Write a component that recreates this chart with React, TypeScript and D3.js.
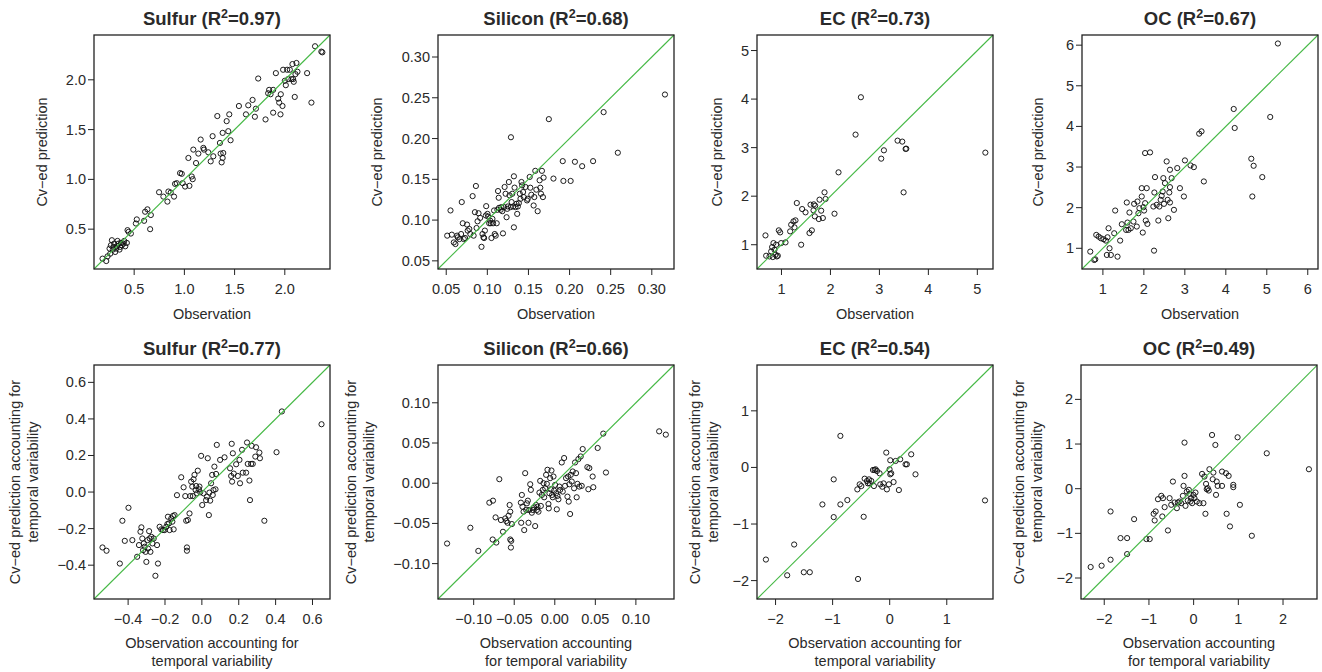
import React from "react";
import * as d3 from "d3";

// ---------- DATA: [observation, cv-ed prediction] ----------
const sulfurTop: [number, number][] = [
  [0.185, 0.204], [0.222, 0.18], [0.235, 0.227], [0.262, 0.254], [0.255, 0.305], [0.268, 0.338],
  [0.278, 0.389], [0.288, 0.295], [0.295, 0.322], [0.301, 0.355], [0.311, 0.271], [0.321, 0.305],
  [0.328, 0.328], [0.334, 0.382], [0.344, 0.355], [0.354, 0.295], [0.361, 0.322], [0.368, 0.362],
  [0.377, 0.338], [0.394, 0.355], [0.401, 0.382], [0.411, 0.328], [0.427, 0.362], [0.434, 0.49],
  [0.444, 0.473], [0.467, 0.456], [0.526, 0.598], [0.517, 0.557], [0.599, 0.584], [0.609, 0.675],
  [0.632, 0.699], [0.666, 0.642], [0.659, 0.5], [0.748, 0.871], [0.791, 0.827], [0.831, 0.777],
  [0.841, 0.878], [0.864, 0.868], [0.897, 0.827], [0.907, 0.955], [0.924, 0.962], [0.957, 1.063],
  [0.974, 1.056], [0.983, 0.962], [1.007, 0.928], [1.05, 0.935], [1.073, 1.029], [1.083, 1.002],
  [1.04, 1.215], [1.089, 1.299], [1.116, 1.164], [1.139, 1.259], [1.162, 1.4], [1.189, 1.316],
  [1.195, 1.299], [1.238, 1.272], [1.262, 1.181], [1.281, 1.434], [1.288, 1.232], [1.328, 1.636],
  [1.354, 1.366], [1.361, 1.259], [1.371, 1.171], [1.381, 1.467], [1.381, 1.215], [1.387, 1.265],
  [1.421, 1.585], [1.437, 1.484], [1.447, 1.653], [1.46, 1.393], [1.543, 1.737], [1.613, 1.653],
  [1.636, 1.744], [1.679, 1.798], [1.702, 1.629], [1.735, 2.013], [1.712, 1.71], [1.808, 1.602],
  [1.834, 1.865], [1.844, 1.899], [1.858, 1.855], [1.884, 1.899], [1.911, 2.067], [1.934, 1.811],
  [1.944, 1.771], [1.96, 1.855], [1.957, 1.653], [1.977, 1.737], [1.884, 1.67], [1.983, 2.101],
  [2.0, 1.99], [2.01, 1.946], [2.023, 2.101], [2.033, 2.007], [2.05, 2.101], [2.066, 2.007],
  [2.076, 2.158], [2.089, 1.98], [2.099, 1.828], [2.106, 2.057], [2.116, 2.169], [2.126, 2.081],
  [2.083, 2.007], [2.222, 2.067], [2.265, 1.771], [2.301, 2.337], [2.364, 2.283], [2.374, 2.276],
];

const siliconTop: [number, number][] = [
  [0.0512, 0.0809], [0.0552, 0.1118], [0.0568, 0.0821], [0.0592, 0.0726], [0.0612, 0.0706], [0.0632, 0.0809],
  [0.064, 0.0788], [0.0661, 0.0767], [0.0681, 0.0829], [0.0689, 0.1221], [0.0701, 0.0961], [0.0713, 0.0767],
  [0.0729, 0.078], [0.0753, 0.0945], [0.0761, 0.0871], [0.0781, 0.0891], [0.0793, 0.0829], [0.0821, 0.1294],
  [0.0833, 0.0809], [0.0849, 0.1097], [0.0861, 0.1418], [0.0869, 0.0903], [0.0881, 0.0985], [0.0893, 0.1084],
  [0.0913, 0.1027], [0.0929, 0.0672], [0.0941, 0.0829], [0.0953, 0.0788], [0.0961, 0.078], [0.097, 0.0871],
  [0.0982, 0.1056], [0.0986, 0.1171], [0.1002, 0.1076], [0.101, 0.1043], [0.1022, 0.0961], [0.1034, 0.0994],
  [0.1042, 0.0961], [0.105, 0.078], [0.1062, 0.1015], [0.107, 0.0961], [0.1082, 0.1118], [0.109, 0.0829],
  [0.1102, 0.0809], [0.1114, 0.0961], [0.1122, 0.1126], [0.113, 0.1356], [0.1138, 0.1274], [0.1142, 0.115],
  [0.1162, 0.1126], [0.117, 0.1159], [0.1182, 0.1109], [0.119, 0.0837], [0.1202, 0.1159], [0.121, 0.1406],
  [0.1222, 0.1323], [0.1234, 0.1035], [0.1242, 0.1138], [0.125, 0.1167], [0.1262, 0.1467], [0.127, 0.1303],
  [0.1283, 0.1159], [0.1287, 0.2016], [0.1295, 0.1221], [0.1303, 0.1323], [0.1315, 0.1167], [0.1323, 0.1537],
  [0.1323, 0.0911], [0.1331, 0.1398], [0.1343, 0.1159], [0.1355, 0.12], [0.1363, 0.1076], [0.1371, 0.1167],
  [0.1383, 0.1208], [0.1395, 0.1323], [0.1403, 0.1261], [0.1415, 0.1467], [0.1423, 0.1426], [0.1435, 0.1344],
  [0.1443, 0.1282], [0.1463, 0.1406], [0.1483, 0.1241], [0.1491, 0.1261], [0.1515, 0.1529], [0.1523, 0.1397],
  [0.1535, 0.1311], [0.1563, 0.1179], [0.1571, 0.1282], [0.1583, 0.1604], [0.1596, 0.1373], [0.1612, 0.1109],
  [0.1636, 0.1488], [0.1644, 0.1397], [0.1652, 0.1323], [0.1664, 0.1604], [0.1676, 0.1282], [0.1684, 0.1521],
  [0.1748, 0.2238], [0.1804, 0.1509], [0.1917, 0.1723], [0.1925, 0.148], [0.2013, 0.148], [0.2065, 0.1715],
  [0.2153, 0.1661], [0.2286, 0.1723], [0.2414, 0.2324], [0.2587, 0.1826], [0.316, 0.254],
];

const ecTop: [number, number][] = [
  [0.673, 1.192], [0.687, 0.773], [0.755, 0.759], [0.789, 0.862], [0.809, 0.952], [0.823, 0.746],
  [0.836, 1.034], [0.857, 0.897], [0.877, 0.794], [0.891, 1.0], [0.905, 0.759], [0.925, 0.773],
  [0.945, 1.296], [0.973, 1.254], [0.993, 1.034], [1.082, 1.048], [1.177, 1.275], [1.198, 1.412],
  [1.245, 1.481], [1.266, 1.357], [1.286, 1.502], [1.313, 1.859], [1.402, 1.0], [1.422, 1.735],
  [1.491, 1.667], [1.572, 1.241], [1.593, 1.825], [1.62, 1.296], [1.654, 1.708], [1.661, 1.832],
  [1.681, 1.584], [1.688, 1.804], [1.763, 1.529], [1.777, 1.928], [1.811, 1.701], [1.845, 1.55],
  [1.879, 2.079], [1.9, 1.942], [2.083, 1.639], [2.165, 2.491], [2.513, 3.268], [2.622, 4.038],
  [3.037, 2.773], [3.092, 2.945], [3.371, 3.144], [3.467, 3.124], [3.494, 2.079], [3.535, 2.973],
  [3.549, 2.979], [5.164, 2.897],
];

const ocTop: [number, number][] = [
  [0.692, 0.918], [0.789, 0.712], [0.814, 0.729], [0.838, 1.329], [0.895, 1.288], [0.951, 1.247],
  [1.016, 1.222], [1.073, 1.189], [1.097, 0.836], [1.113, 1.271], [1.138, 1.493], [1.162, 1.0],
  [1.194, 0.836], [1.3, 1.929], [1.276, 1.37], [1.357, 0.794], [1.421, 1.189], [1.462, 1.592],
  [1.567, 1.452], [1.583, 2.127], [1.6, 1.633], [1.624, 1.452], [1.648, 1.88], [1.681, 1.493],
  [1.746, 1.658], [1.762, 2.094], [1.827, 1.535], [1.843, 2.151], [1.867, 1.863], [1.891, 1.987],
  [1.948, 2.275], [1.948, 2.48], [1.973, 1.387], [1.989, 2.012], [2.005, 1.929], [2.03, 2.11],
  [2.03, 3.344], [2.046, 1.683], [2.07, 2.48], [2.086, 1.6], [2.151, 3.36], [2.232, 2.028],
  [2.248, 0.942], [2.256, 2.373], [2.272, 2.752], [2.313, 2.069], [2.353, 1.683], [2.378, 2.028],
  [2.41, 2.192], [2.434, 2.291], [2.459, 2.398], [2.475, 2.727], [2.491, 2.094], [2.515, 2.604],
  [2.556, 3.138], [2.58, 2.192], [2.596, 1.74], [2.621, 2.373], [2.637, 2.933], [2.637, 2.127],
  [2.677, 2.727], [2.637, 2.505], [2.734, 1.946], [2.815, 2.974], [2.88, 2.48], [2.977, 2.275],
  [3.002, 3.163], [3.139, 3.039], [3.22, 2.998], [3.35, 3.821], [3.407, 3.878], [3.464, 2.645],
  [4.193, 4.429], [4.217, 3.961], [4.622, 3.204], [4.679, 3.031], [4.647, 2.275], [4.89, 2.752],
  [5.084, 4.232], [5.271, 6.041],
];

const sulfurTemporal: [number, number][] = [
  [-0.539, -0.303], [-0.517, -0.321], [-0.445, -0.391], [-0.431, -0.157], [-0.418, -0.267], [-0.398, -0.086],
  [-0.377, -0.263], [-0.351, -0.354], [-0.341, -0.29], [-0.333, -0.217], [-0.328, -0.193], [-0.323, -0.254],
  [-0.319, -0.318], [-0.315, -0.281], [-0.31, -0.299], [-0.305, -0.327], [-0.301, -0.382], [-0.295, -0.263],
  [-0.292, -0.309], [-0.286, -0.214], [-0.283, -0.254], [-0.279, -0.327], [-0.274, -0.245], [-0.268, -0.281],
  [-0.261, -0.254], [-0.252, -0.458], [-0.243, -0.29], [-0.238, -0.391], [-0.229, -0.19], [-0.22, -0.204],
  [-0.211, -0.208], [-0.202, -0.208], [-0.193, -0.19], [-0.187, -0.175], [-0.184, -0.135], [-0.178, -0.171],
  [-0.175, -0.208], [-0.166, -0.144], [-0.16, -0.162], [-0.157, -0.131], [-0.153, -0.204], [-0.148, -0.126],
  [-0.135, -0.017], [-0.112, 0.081], [-0.099, 0.026], [-0.09, -0.022], [-0.085, -0.157], [-0.081, -0.303],
  [-0.081, -0.321], [-0.076, -0.153], [-0.067, -0.117], [-0.063, -0.022], [-0.058, 0.057], [-0.052, 0.03],
  [-0.049, -0.022], [-0.045, 0.07], [-0.04, 0.094], [-0.034, 0.011], [-0.031, 0.033], [-0.027, -0.007],
  [-0.022, 0.117], [-0.016, 0.015], [-0.013, 0.03], [-0.009, -0.001], [-0.004, 0.198], [0.002, -0.071],
  [0.009, -0.007], [0.023, -0.044], [0.027, -0.025], [0.032, 0.185], [0.038, -0.126], [0.041, -0.003],
  [0.045, -0.047], [0.05, 0.048], [0.056, 0.094], [0.059, -0.016], [0.063, 0.011], [0.068, 0.139],
  [0.074, 0.015], [0.077, 0.099], [0.081, 0.258], [0.099, 0.176], [0.123, 0.19], [0.153, 0.13],
  [0.159, 0.088], [0.162, 0.264], [0.164, 0.057], [0.168, 0.212], [0.173, 0.101], [0.186, 0.152],
  [0.195, 0.088], [0.204, 0.176], [0.207, 0.048], [0.218, 0.231], [0.222, 0.106], [0.24, 0.106],
  [0.245, 0.271], [0.249, 0.154], [0.258, 0.063], [0.261, -0.044], [0.267, 0.154], [0.27, 0.253],
  [0.276, 0.154], [0.29, 0.194], [0.294, 0.245], [0.312, 0.216], [0.315, 0.185], [0.339, -0.157],
  [0.405, 0.218], [0.434, 0.441], [0.649, 0.371],
];

const siliconTemporal: [number, number][] = [
  [-0.1328, -0.075], [-0.1041, -0.0554], [-0.0943, -0.0842], [-0.0807, -0.0242], [-0.0762, -0.0217], [-0.0766, -0.07],
  [-0.073, -0.0425], [-0.0721, -0.0738], [-0.0684, 0.005], [-0.0664, -0.0458], [-0.0639, -0.0604], [-0.0611, -0.0438],
  [-0.0598, -0.0471], [-0.0582, -0.0492], [-0.057, -0.0404], [-0.0557, -0.0271], [-0.0549, -0.0354], [-0.0549, -0.07],
  [-0.0541, -0.08], [-0.0537, -0.0717], [-0.0529, -0.0508], [-0.0418, -0.0242], [-0.0414, -0.0492], [-0.0406, -0.0146],
  [-0.0398, -0.0292], [-0.0385, -0.0354], [-0.0377, -0.0583], [-0.0365, 0.0125], [-0.0352, -0.0333], [-0.0344, -0.025],
  [-0.0332, -0.0217], [-0.0324, -0.0492], [-0.0316, -0.0333], [-0.0303, -0.0013], [-0.0295, -0.0083], [-0.0283, -0.0367],
  [-0.027, -0.0333], [-0.0254, -0.03], [-0.0242, -0.0533], [-0.023, -0.0271], [-0.0221, -0.0333], [-0.0213, -0.0292],
  [-0.0201, -0.0354], [-0.0189, -0.0117], [-0.018, 0.0029], [-0.0172, -0.0283], [-0.016, -0.0146], [-0.0148, -0.0083],
  [-0.0139, 0.0], [-0.0131, -0.0175], [-0.0119, -0.0063], [-0.0107, 0.0104], [-0.0098, -0.0008], [-0.009, 0.0167],
  [-0.0078, -0.0258], [-0.0074, -0.0313], [-0.0066, -0.0125], [-0.0057, 0.0063], [-0.0049, -0.0075], [-0.0041, 0.0158],
  [-0.0033, -0.0146], [-0.0025, -0.0175], [-0.0016, 0.0083], [-0.0008, -0.0092], [0.0004, -0.0021], [0.0016, -0.0125],
  [0.0025, -0.0325], [0.0033, -0.0158], [0.0045, -0.02], [0.0057, -0.0042], [0.0066, -0.0083], [0.0086, 0.0258],
  [0.0098, -0.0104], [0.0115, 0.0313], [0.0127, -0.0033], [0.0139, 0.0063], [0.0156, -0.0167], [0.0164, 0.0083],
  [0.0172, -0.0229], [0.018, -0.0013], [0.0189, -0.0383], [0.0197, 0.0104], [0.0209, 0.0021], [0.0221, 0.0146],
  [0.0238, -0.0063], [0.025, 0.0258], [0.0262, 0.0125], [0.027, -0.0175], [0.0279, -0.0008], [0.0291, 0.03],
  [0.0303, -0.0042], [0.032, 0.0333], [0.0332, -0.0033], [0.0344, 0.0425], [0.0402, 0.02], [0.0414, -0.0075],
  [0.0426, 0.0188], [0.0467, 0.0083], [0.0475, -0.005], [0.0529, 0.0438], [0.0598, 0.0617], [0.0631, 0.0133],
  [0.1287, 0.0645], [0.1369, 0.0604],
];

const ecTemporal: [number, number][] = [
  [-2.169, -1.628], [-1.796, -1.906], [-1.674, -1.362], [-1.505, -1.852], [-1.4, -1.852], [-1.179, -0.654],
  [-0.981, -0.211], [-0.981, -0.878], [-0.864, 0.557], [-0.864, -0.654], [-0.742, -0.577], [-0.567, -0.388],
  [-0.555, -1.971], [-0.526, -0.299], [-0.497, -0.329], [-0.456, -0.872], [-0.439, -0.199], [-0.398, -0.24],
  [-0.381, -0.282], [-0.363, -0.211], [-0.351, -0.282], [-0.322, -0.24], [-0.293, -0.045], [-0.276, -0.329],
  [-0.264, -0.045], [-0.247, -0.033], [-0.223, -0.063], [-0.177, -0.104], [-0.165, -0.299], [-0.13, -0.341],
  [-0.107, -0.282], [-0.06, 0.262], [-0.049, -0.388], [-0.014, -0.299], [-0.002, -0.033], [0.01, -0.122],
  [0.01, 0.126], [0.027, -0.104], [0.068, -0.258], [0.103, 0.114], [0.161, -0.4], [0.184, 0.144],
  [0.278, 0.055], [0.301, 0.055], [0.377, 0.232], [0.452, -0.122], [1.67, -0.583],
];

const ocTemporal: [number, number][] = [
  [-2.304, -1.754], [-2.059, -1.724], [-1.859, -1.59], [-1.859, -0.51], [-1.636, -1.106], [-1.488, -1.106],
  [-1.488, -1.464], [-1.332, -0.682], [-1.057, -1.128], [-0.983, -1.128], [-0.894, -0.562], [-0.872, -0.711],
  [-0.85, -0.51], [-0.798, -0.235], [-0.724, -0.16], [-0.701, -0.622], [-0.686, -0.212], [-0.649, -0.413],
  [-0.575, -0.935], [-0.538, -0.212], [-0.501, -0.361], [-0.464, 0.16], [-0.427, -0.309], [-0.375, -0.436],
  [-0.353, -0.309], [-0.315, -0.287], [-0.278, -0.324], [-0.241, -0.16], [-0.226, 0.063], [-0.204, 0.287],
  [-0.204, 1.032], [-0.182, -0.384], [-0.152, -0.063], [-0.13, -0.264], [-0.108, -0.026], [-0.093, -0.115],
  [-0.071, -0.287], [-0.056, -0.212], [-0.033, -0.324], [-0.004, -0.138], [0.019, -0.212], [0.041, -0.086],
  [0.071, -0.287], [0.13, -0.324], [0.189, 0.331], [0.219, -0.324], [0.241, 0.272], [0.264, -0.562],
  [0.278, 0.108], [0.293, -0.011], [0.316, 0.011], [0.338, -0.041], [0.353, 0.436], [0.412, 1.203],
  [0.427, 0.212], [0.442, 0.361], [0.486, 0.98], [0.501, -0.138], [0.516, 0.16], [0.538, 0.063],
  [0.635, 0.063], [0.635, 0.384], [0.724, 0.346], [0.738, -0.562], [0.783, 0.287], [0.813, -0.845],
  [0.887, 0.086], [0.887, 0.034], [0.983, 1.151], [1.035, -0.361], [1.302, -1.054], [1.636, 0.793],
  [2.579, 0.436],
];

const species = ["Sulfur", "Silicon", "EC", "OC"];
const r2Top = ["0.97", "0.68", "0.73", "0.67"];
const r2Bottom = ["0.77", "0.66", "0.54", "0.49"];

const ticksTop: number[][] = [
  [0.5, 1.0, 1.5, 2.0],
  [0.05, 0.1, 0.15, 0.2, 0.25, 0.3],
  [1, 2, 3, 4, 5],
  [1, 2, 3, 4, 5, 6],
];
const ticksBottom: number[][] = [
  [-0.4, -0.2, 0.0, 0.2, 0.4, 0.6],
  [-0.1, -0.05, 0.0, 0.05, 0.1],
  [-2, -1, 0, 1],
  [-2, -1, 0, 1, 2],
];
const yTicksBottom: number[][] = [
  [-0.4, -0.2, 0.0, 0.2, 0.4, 0.6],
  [-0.1, -0.05, 0.0, 0.05, 0.1],
  [-2, -1, 0, 1],
  [-2, -1, 0, 1, 2],
];
const digitsTop = [1, 2, 0, 0];
const digitsBottom = [1, 2, 0, 0];

// axis limits (observation, prediction)
const xLimTop: [number, number][] = [[0.1, 2.45], [0.04, 0.327], [0.5, 5.32], [0.49, 6.25]];
const yLimTop: [number, number][] = [[0.1, 2.45], [0.04, 0.327], [0.5, 5.32], [0.49, 6.25]];
const xLimBottom: [number, number][] = [[-0.585, 0.695], [-0.144, 0.147], [-2.325, 1.81], [-2.52, 2.76]];
const yLimBottom: [number, number][] = [[-0.585, 0.695], [-0.144, 0.147], [-2.325, 1.81], [-2.47, 2.77]];

const xLabTop = [["Observation"], ["Observation"], ["Observation"], ["Observation"]];
const yLabTop = [["Cv\u2212ed prediction"], ["Cv\u2212ed prediction"], ["Cv\u2212ed prediction"], ["Cv\u2212ed prediction"]];
const xLabBottom = [
  ["Observation accounting for", "temporal variability"],
  ["Observation accounting", "for temporal variability"],
  ["Observation accounting for", "temporal variability"],
  ["Observation accounting", "for temporal variability"],
];
const yLabBottom = [
  ["Cv\u2212ed prediction accounting for", "temporal variability"],
  ["Cv\u2212ed prediction accounting for", "temporal variability"],
  ["Cv\u2212ed prediction accounting for", "temporal variability"],
  ["Cv\u2212ed prediction accounting for", "temporal variability"],
];

// ---------- LAYOUT ----------
const W = 1322;
const H = 672;
const BOX_W = 236;
const BOX_H = 234;
const LEFTS_TOP = [94, 438, 757, 1082];
const LEFTS_BOTTOM = [94, 438, 757, 1081];
const TOPS = [35, 365];
const YLAB_OFFSET_TOP = [52, 61, 40, 44];
const YLAB_OFFSET_BOTTOM = [61, 69, 44, 44];
const FONT = "'Liberation Sans', Arial, Helvetica, sans-serif";
const LABEL_SIZE = 14.5;
const TITLE_SIZE = 18.5;
const TEXT_COLOR = "#2a2a2a";
const LINE_GREEN = "#46b946";

type PanelProps = {
  left: number;
  top: number;
  data: [number, number][];
  xLim: [number, number];
  yLim: [number, number];
  xTicks: number[];
  yTicks: number[];
  digits: number;
  name: string;
  r2: string;
  xLab: string[];
  yLab: string[];
  yLabOffset: number;
};

function Panel(p: PanelProps) {
  const x = d3.scaleLinear().domain(p.xLim).range([p.left, p.left + BOX_W]);
  const y = d3.scaleLinear().domain(p.yLim).range([p.top + BOX_H, p.top]);
  const fmt = d3.format(`.${p.digits}f`);
  // y = x reference line, limited to the plotting region
  const lo = Math.max(p.xLim[0], p.yLim[0]);
  const hi = Math.min(p.xLim[1], p.yLim[1]);
  const bottom = p.top + BOX_H;
  const cx = p.left + BOX_W / 2;
  const cy = p.top + BOX_H / 2;
  const xl = p.xLab.length;
  const yl = p.yLab.length;
  return (
    <g>
      {p.data.map((d, i) => (
        <circle key={i} cx={x(d[0])} cy={y(d[1])} r={2.6} fill="none" stroke="#111" strokeWidth={0.95} />
      ))}
      <path d={`M${x(lo)},${y(lo)}L${x(hi)},${y(hi)}`} stroke={LINE_GREEN} strokeWidth={1.1} fill="none" />
      <rect x={p.left} y={p.top} width={BOX_W} height={BOX_H} fill="none" stroke="#222" strokeWidth={1.3} />
      {p.xTicks.map((t, i) => (
        <g key={`xt${i}`}>
          <line x1={x(t)} x2={x(t)} y1={bottom} y2={bottom + 6} stroke="#222" strokeWidth={1} />
          <text x={x(t)} y={bottom + 25} textAnchor="middle" fontSize={LABEL_SIZE} fill={TEXT_COLOR} fontFamily={FONT}>
            {fmt(t)}
          </text>
        </g>
      ))}
      {p.yTicks.map((t, i) => (
        <g key={`yt${i}`}>
          <line x1={p.left - 6} x2={p.left} y1={y(t)} y2={y(t)} stroke="#222" strokeWidth={1} />
          <text x={p.left - 8} y={y(t) + 5} textAnchor="end" fontSize={LABEL_SIZE} fill={TEXT_COLOR} fontFamily={FONT}>
            {fmt(t)}
          </text>
        </g>
      ))}
      <text x={cx} y={p.top - 10} textAnchor="middle" fontSize={TITLE_SIZE} fontWeight="bold" fill={TEXT_COLOR} fontFamily={FONT}>
        {p.name} (R
        <tspan fontSize={12.5} dy={-7}>2</tspan>
        <tspan dy={7}>={p.r2})</tspan>
      </text>
      {p.xLab.map((s, i) => (
        <text key={`xl${i}`} x={cx} y={bottom + (xl === 1 ? 50 : 49 + i * 18)} textAnchor="middle" fontSize={LABEL_SIZE} fill={TEXT_COLOR} fontFamily={FONT}>
          {s}
        </text>
      ))}
      {p.yLab.map((s, i) => {
        const off = p.yLabOffset + (yl - 1 - i) * 18;
        const bx = p.left - off + 5;
        return (
          <text key={`yl${i}`} transform={`translate(${bx},${cy}) rotate(-90)`} textAnchor="middle" fontSize={LABEL_SIZE} fill={TEXT_COLOR} fontFamily={FONT}>
            {s}
          </text>
        );
      })}
    </g>
  );
}

const topData = [sulfurTop, siliconTop, ecTop, ocTop];
const bottomData = [sulfurTemporal, siliconTemporal, ecTemporal, ocTemporal];

export default function App() {
  return (
    <svg width={W} height={H} style={{ position: "absolute", left: 0, top: 0, background: "#fff" }}>
      <rect width={W} height={H} fill="#fff" />
      {species.map((s, i) => (
        <Panel
          key={`t${i}`}
          left={LEFTS_TOP[i]}
          top={TOPS[0]}
          data={topData[i]}
          xLim={xLimTop[i]}
          yLim={yLimTop[i]}
          xTicks={ticksTop[i]}
          yTicks={ticksTop[i]}
          digits={digitsTop[i]}
          name={s}
          r2={r2Top[i]}
          xLab={xLabTop[i]}
          yLab={yLabTop[i]}
          yLabOffset={YLAB_OFFSET_TOP[i]}
        />
      ))}
      {species.map((s, i) => (
        <Panel
          key={`b${i}`}
          left={LEFTS_BOTTOM[i]}
          top={TOPS[1]}
          data={bottomData[i]}
          xLim={xLimBottom[i]}
          yLim={yLimBottom[i]}
          xTicks={ticksBottom[i]}
          yTicks={yTicksBottom[i]}
          digits={digitsBottom[i]}
          name={s}
          r2={r2Bottom[i]}
          xLab={xLabBottom[i]}
          yLab={yLabBottom[i]}
          yLabOffset={YLAB_OFFSET_BOTTOM[i]}
        />
      ))}
    </svg>
  );
}
